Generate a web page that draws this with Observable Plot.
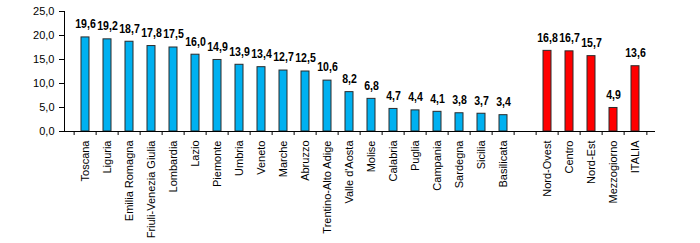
<!DOCTYPE html>
<html>
<head>
<meta charset="utf-8">
<script src="https://cdn.jsdelivr.net/npm/d3@7"></script>
<script src="https://cdn.jsdelivr.net/npm/@observablehq/plot@0.6"></script>
<style>
  html, body { margin: 0; padding: 0; background: #fff; }
  #chart svg { display: block; }
</style>
</head>
<body>
<div id="chart"></div>
<script>
const regions = ["Toscana", "Liguria", "Emilia Romagna", "Friuli-Venezia Giulia", "Lombardia", "Lazio", "Piemonte", "Umbria", "Veneto", "Marche", "Abruzzo", "Trentino-Alto Adige", "Valle d'Aosta", "Molise", "Calabria", "Puglia", "Campania", "Sardegna", "Sicilia", "Basilicata"];
const regionValues = [19.6, 19.2, 18.7, 17.8, 17.5, 16.0, 14.9, 13.9, 13.4, 12.7, 12.5, 10.6, 8.2, 6.8, 4.7, 4.4, 4.1, 3.8, 3.7, 3.4];
const areas = ["Nord-Ovest", "Centro", "Nord-Est", "Mezzogiorno", "ITALIA"];
const areaValues = [16.8, 16.7, 15.7, 4.9, 13.6];
const yTicks = [0, 5, 10, 15, 20, 25];

const gap = "";
const domain = [...regions, gap, ...areas];
const data = [
  ...regions.map((name, i) => ({name, value: regionValues[i], group: "regione"})),
  ...areas.map((name, i) => ({name, value: areaValues[i], group: "area"}))
];

const W = 700, H = 243, ML = 64, MR = 45, MT = 11, MB = 112;
const bw = (W - ML - MR) / domain.length;
const fmt = d => d.toFixed(1).replace(".", ",");

const chart = Plot.plot({
  width: W,
  height: H,
  marginLeft: ML,
  marginRight: MR,
  marginTop: MT,
  marginBottom: MB,
  style: {fontFamily: "'Liberation Sans', Arial, sans-serif", fontSize: "11px", color: "#000", background: "#fff"},
  x: {domain, padding: 0, label: null},
  y: {domain: [0, 25], label: null},
  color: {domain: ["regione", "area"], range: ["#00B0F0", "#FF0000"]},
  marks: [
    Plot.barY(data, {x: "name", y: "value", fill: "group", stroke: "#2b2b2b", strokeWidth: 1, insetLeft: 7, insetRight: 7}),
    Plot.text(data, {x: "name", y: "value", text: d => fmt(d.value), dy: -13, lineAnchor: "middle",
      className: "vlabel",
      fontFamily: "'Liberation Sans', Arial, sans-serif", fontWeight: "bold", fontSize: 12, fill: "#000"}),
    Plot.axisY({ticks: yTicks, tickFormat: fmt, tickSize: 5, tickPadding: 5, fontSize: 11, label: null}),
    Plot.axisX({tickSize: 0, tickPadding: 9, tickRotate: -90, fontSize: 11, label: null}),
    Plot.axisX({tickSize: 4, text: null, dx: -bw / 2, label: null}),
    Plot.axisX({ticks: [areas[areas.length - 1]], tickSize: 4, text: null, dx: bw / 2, label: null}),
    Plot.ruleY([0], {stroke: "#000"}),
    Plot.frame({anchor: "left", stroke: "#000"})
  ]
});
// condense the value labels horizontally (narrow bold face in the reference)
chart.querySelectorAll(".vlabel text").forEach(t => {
  const tr = t.getAttribute("transform") || "";
  t.setAttribute("transform", (tr + " scale(0.88,1)").trim());
});
document.getElementById("chart").append(chart);
</script>
</body>
</html>
